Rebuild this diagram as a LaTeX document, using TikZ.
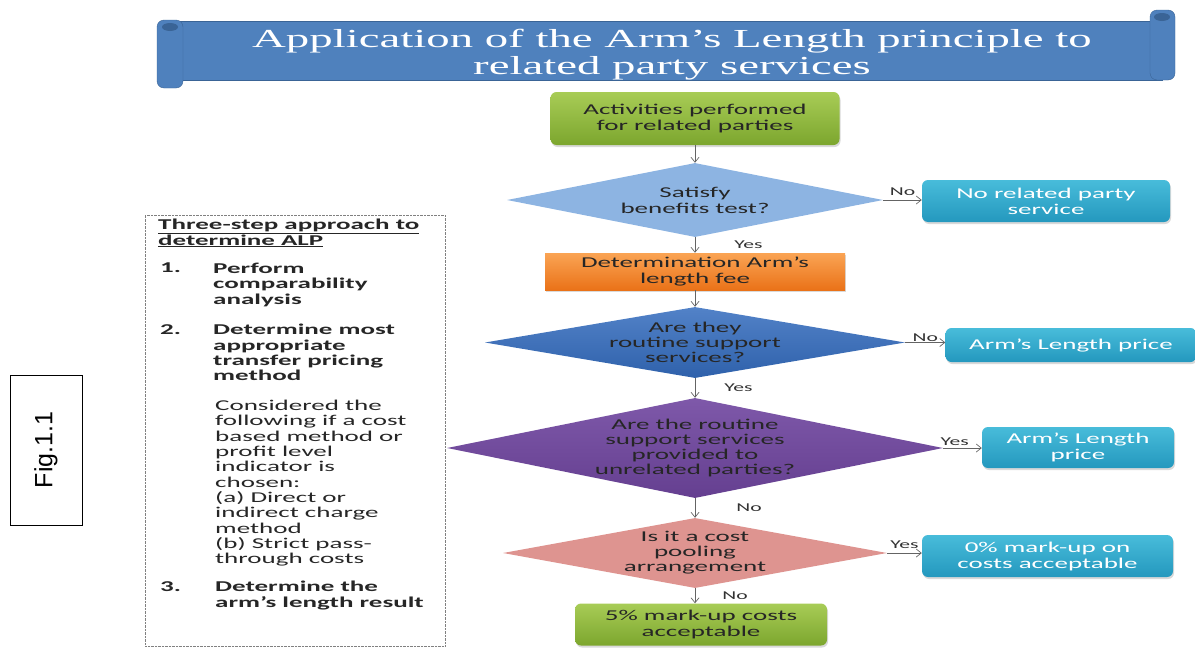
\documentclass[tikz,border=0pt]{standalone}
\usepackage{fontspec}
\setmainfont{Carlito}
\newfontfamily\boxfont[FakeStretch=1.8]{Carlito}
\newfontfamily\titlefont[FakeStretch=1.8]{Liberation Serif}
\newfontfamily\figfont{Liberation Sans}
\usetikzlibrary{arrows.meta,shapes.geometric,shadows}

\definecolor{bannerblue}{RGB}{79,129,189}
\definecolor{bannerdark}{RGB}{58,100,150}
\definecolor{greentop}{RGB}{168,204,86}
\definecolor{greenbot}{RGB}{124,166,46}
\definecolor{orangetop}{RGB}{250,164,84}
\definecolor{orangebot}{RGB}{234,114,24}
\definecolor{cyantop}{RGB}{72,188,218}
\definecolor{cyanbot}{RGB}{36,152,190}
\definecolor{lightblue}{RGB}{141,180,226}
\definecolor{routineblue}{RGB}{52,108,190}
\definecolor{unrelpurple}{RGB}{112,70,160}
\definecolor{poolpink}{RGB}{222,148,144}
\definecolor{linegray}{RGB}{100,100,100}

\begin{document}
\begin{tikzpicture}[x=1pt, y=-1pt, >={Straight Barb[length=5pt,width=8pt]},
    every node/.style={font=\boxfont\fontsize{15}{16}\selectfont},
    flow/.style={->, draw=linegray, line width=0.7pt},
    lbl/.style={font=\boxfont\fontsize{12}{12}\selectfont, text=black!80, inner sep=1pt},
    endbox/.style={rectangle, rounded corners=6pt, inner sep=0pt, align=center,
      drop shadow={opacity=0.3, shadow xshift=1pt, shadow yshift=-2pt}},
    greenbox/.style={endbox, top color=greentop, bottom color=greenbot, text=black!85},
    cyanbox/.style={endbox, top color=cyantop, bottom color=cyanbot, text=white},
    decision/.style={diamond, inner sep=0pt},
    dtext/.style={align=center, text=black!85},
    steptext/.style={anchor=north west, align=left, inner sep=0pt,
      font=\boxfont\fontsize{15}{15.3}\selectfont, text=black!85}]

    \useasboundingbox (0,0) rectangle (1195,648);

    % 見出しの巻物
    \fill[bannerblue, draw=bannerdark] (170,21) rectangle (1162,80);
    \filldraw[fill=bannerblue, draw=bannerdark, rounded corners=7pt] (157,20) rectangle (183,88);
    \fill[bannerdark] (170,27) ellipse (8pt and 4pt);
    \filldraw[fill=bannerblue, draw=bannerdark, rounded corners=7pt] (1150,10) rectangle (1175,80);
    \fill[bannerdark] (1162,17) ellipse (8pt and 4pt);
    \node[font=\titlefont\fontsize{26}{27}\selectfont, text=white, align=center] (title) at (672,55)
      {Application of the Arm’s Length principle to\\related party services};

    % 中央の流れ
    \node[greenbox, minimum width=289pt, minimum height=53pt] (act) at (695,118.5)
      {Activities performed\\for related parties};
    \node[decision, fill=lightblue, minimum width=376pt, minimum height=74pt] (q1) at (695,200) {};
    \node[dtext] at (q1) {Satisfy\\benefits test?};
    \node[endbox, top color=orangetop, bottom color=orangebot, text=black!85,
      rounded corners=0pt, minimum width=300pt, minimum height=37pt] (fee) at (695,271.5)
      {Determination Arm’s\\length fee};
    \node[decision, top color=routineblue!85!white, bottom color=routineblue!90!black,
      minimum width=420pt, minimum height=71pt] (q2) at (695,342.5) {};
    \node[dtext, font=\boxfont\fontsize{15}{15}\selectfont] at (q2) {Are they\\routine support\\services?};
    \node[decision, top color=unrelpurple!90!white, bottom color=unrelpurple!90!black,
      minimum width=496pt, minimum height=100pt] (q3) at (695,448) {};
    \node[dtext, font=\boxfont\fontsize{15}{15}\selectfont] at (q3)
      {Are the routine\\support services\\provided to\\unrelated parties?};
    \node[decision, fill=poolpink, minimum width=384pt, minimum height=70pt] (q4) at (695,553) {};
    \node[dtext, font=\boxfont\fontsize{15}{15}\selectfont] at (q4) {Is it a cost\\pooling\\arrangement};
    \node[greenbox, minimum width=252pt, minimum height=42pt] (fin) at (701,624.5)
      {5\% mark-up costs\\acceptable};

    % 右側の結果
    \node[cyanbox, minimum width=248pt, minimum height=42pt] (norel) at (1046,201)
      {No related party\\service};
    \node[cyanbox, minimum width=251pt, minimum height=34pt] (alpone) at (1071,345)
      {Arm’s Length price};
    \node[cyanbox, minimum width=192pt, minimum height=41pt] (alptwo) at (1078,447.5)
      {Arm’s Length\\price};
    \node[cyanbox, minimum width=251pt, minimum height=42pt] (zero) at (1047.5,556)
      {0\% mark-up on\\costs acceptable};

    % 矢印
    \draw[flow] (act) -- (q1);
    \draw[flow] (q1) -- node[lbl, right=38pt, pos=.45] {Yes} (fee);
    \draw[flow] (fee) -- (q2);
    \draw[flow] (q2) -- node[lbl, right=28pt] {Yes} (q3);
    \draw[flow] (q3) -- node[lbl, right=40pt] {No} (q4);
    \draw[flow] (q4.south) -- node[lbl, right=26pt] {No} (q4.south |- fin.north);
    \draw[flow] (q1.east) -- node[lbl, above=3pt] {No} (q1.east -| norel.west);
    \draw[flow] (q2.east) -- node[lbl, above=0pt] {No} (q2.east -| alpone.west);
    \draw[flow] (q3.east) -- node[lbl, above=1pt, pos=.3] {Yes} (q3.east -| alptwo.west);
    \draw[flow] (q4.east) -- node[lbl, above=3pt] {Yes} (q4.east -| zero.west);

    % 三段階の手順
    \node[draw=gray, densely dotted, minimum width=300pt, minimum height=431pt, inner sep=0pt]
      (steps) at (295,430.5) {};
    \node[steptext, font=\boxfont\bfseries\fontsize{15}{15.3}\selectfont] (head) at (158,219)
      {\underline{Three-step approach to}\\\underline{determine ALP}};
    \node[steptext, font=\boxfont\bfseries\fontsize{15}{15.3}\selectfont] (numone) at (160,263) {1.};
    \node[steptext, font=\boxfont\bfseries\fontsize{15}{15.3}\selectfont] (stepone) at (213,263)
      {Perform\\comparability\\analysis};
    \node[steptext, font=\boxfont\bfseries\fontsize{15}{15.3}\selectfont] (numtwo) at (160,324) {2.};
    \node[steptext, font=\boxfont\bfseries\fontsize{15}{15.3}\selectfont] (steptwo) at (213,324)
      {Determine most\\appropriate\\transfer pricing\\method};
    \node[steptext] (note) at (215,400)
      {Considered the\\following if a cost\\based method or\\profit level\\indicator is\\chosen:\\(a) Direct or\\indirect charge\\method\\(b) Strict pass-\\through costs};
    \node[steptext, font=\boxfont\bfseries\fontsize{15}{15.3}\selectfont] (numthree) at (160,581) {3.};
    \node[steptext, font=\boxfont\bfseries\fontsize{15}{15.3}\selectfont] (stepthree) at (215,581)
      {Determine the\\arm’s length result};

    % 図番号
    \node[draw=black, line width=0.8pt, minimum width=72pt, minimum height=150pt] (figbox) at (46,450) {};
    \node[rotate=90, font=\figfont\fontsize{25}{25}\selectfont] (figlabel) at (figbox) {Fig.1.1};

\end{tikzpicture}
\end{document}
